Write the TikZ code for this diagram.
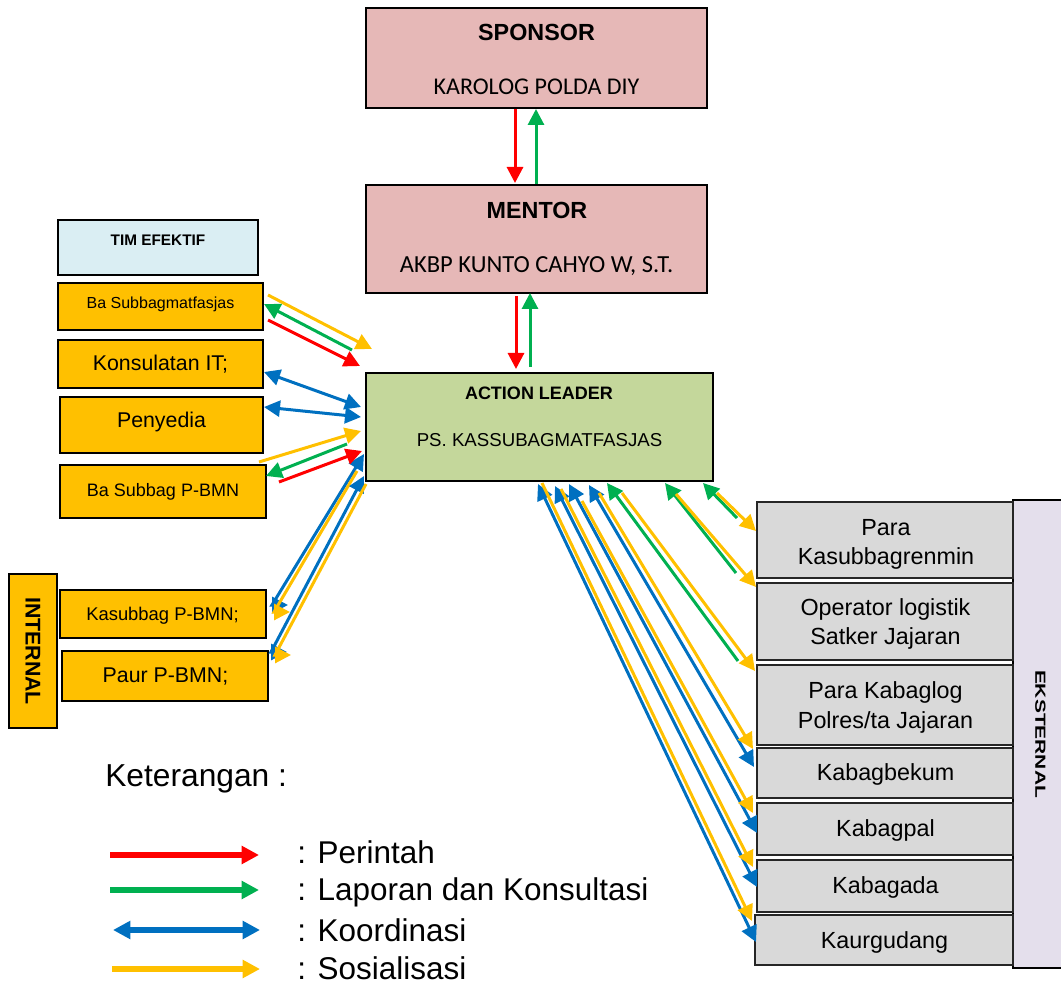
\documentclass[tikz,border=0pt]{standalone}
\usepackage{fontspec}
\setmainfont{Liberation Sans}
\newfontfamily\calfont{Carlito}
\usetikzlibrary{arrows.meta,calc,fit}
\definecolor{pinkc}{HTML}{E6B8B7}
\definecolor{greenbox}{HTML}{C4D79B}
\definecolor{lightblue}{HTML}{DAEEF3}
\definecolor{orangec}{HTML}{FFC000}
\definecolor{grayc}{HTML}{D9D9D9}
\definecolor{lavc}{HTML}{E4DFEC}
\definecolor{ared}{HTML}{FF0000}
\definecolor{agreen}{HTML}{00B050}
\definecolor{ablue}{HTML}{0070C0}
\definecolor{ayellow}{HTML}{FFC000}
\newcommand\fsz[1]{\fontsize{#1pt}{#1pt}\selectfont}
\tikzset{
  bx/.style={draw=black, line width=1.5pt, inner sep=0pt},
  pinkbox/.style={bx, fill=pinkc},
  greenbx/.style={bx, fill=greenbox},
  bluebx/.style={bx, fill=lightblue},
  orangebx/.style={bx, fill=orangec},
  graybx/.style={bx, draw=black!85, fill=grayc},
  lavbx/.style={bx, fill=lavc},
  txt/.style={inner sep=0pt, anchor=base},
  tip/.tip={Triangle[length=12pt,width=12pt]},
  bigtip/.tip={Triangle[length=13pt,width=13pt]},
  sarr/.style={line width=2.25pt, -tip},
  darr/.style={line width=2.25pt, tip-tip},
  rarr/.style={sarr, draw=ared},
  garr/.style={sarr, draw=agreen},
  yarr/.style={sarr, draw=ayellow},
  barr/.style={darr, draw=ablue},
  leg/.style={line width=4.5pt, -bigtip},
}
\begin{document}
\begin{tikzpicture}[x=0.75pt,y=-0.75pt]
\useasboundingbox (0,0) rectangle (1061,984);

% ---- top boxes
\node[pinkbox, fit={(366,8)(707,108)}] (sp) {};
\node[txt, font=\bfseries\fsz{17.5}] (spT) at (536.5,40.5) {SPONSOR};
\node[txt, font=\calfont\fsz{18}] (spS) at (536.5,95) {KAROLOG POLDA DIY};

\node[pinkbox, fit={(366,185)(707,293)}] (me) {};
\node[txt, font=\bfseries\fsz{17.5}] (meT) at (537,218.5) {MENTOR};
\node[txt, font=\calfont\fsz{18.4}] (meS) at (536.5,273) {AKBP KUNTO CAHYO W, S.T.};

\node[greenbx, fit={(366,373)(713,481)}] (al) {};
\node[txt, font=\bfseries\fsz{13.5}] (alT) at (539,400) {ACTION LEADER};
\node[txt, font=\fsz{14}] (alS) at (539.5,446.5) {PS. KASSUBAGMATFASJAS};

% ---- left boxes
\node[bluebx, fit={(58,220)(258,275)}] (tim) {};
\node[txt, font=\bfseries\fsz{11.5}] (timT) at (158,245.5) {TIM EFEKTIF};
\node[orangebx, fit={(58,283)(263,330)}] (b1) {};
\node[txt, font=\fsz{12}] (b1T) at (160.5,309) {Ba Subbagmatfasjas};
\node[orangebx, fit={(58,340)(263,388)}] (b2) {};
\node[txt, font=\fsz{16}] (b2T) at (160.5,370.5) {Konsulatan IT;};
\node[orangebx, fit={(60,397)(263,453)}] (b3) {};
\node[txt, font=\fsz{16}] (b3T) at (161.5,427.5) {Penyedia};
\node[orangebx, fit={(60,465)(266,518)}] (b4) {};
\node[txt, font=\fsz{13.5}] (b4T) at (163,496.5) {Ba Subbag P-BMN};

\node[orangebx, fit={(9,574)(57,728)}] (intl) {};
\node[inner sep=0pt, rotate=-90, font=\bfseries\fsz{16}] (intlT) at (33,651) {INTERNAL};
\node[orangebx, fit={(60,590)(266,638)}] (b5) {};
\node[txt, font=\fsz{13.8}] (b5T) at (162.5,620.5) {Kasubbag P-BMN;};
\node[orangebx, fit={(62,651)(268,701)}] (b6) {};
\node[txt, font=\fsz{16}] (b6T) at (165.5,682.5) {Paur P-BMN;};

% ---- right boxes
\node[lavbx, fit={(1013,500)(1075,968)}] (ext) {};
\node[inner sep=0pt, rotate=-90, font=\bfseries\fsz{15.7}] (extT) at (1040.5,734) {\scalebox{1}[0.7]{EKSTERNAL}};
\node[graybx, fit={(757,502)(1013,578)}] (r1) {};
\node[txt, font=\fsz{17.5}] (r1a) at (886,535.5) {Para};
\node[txt, font=\fsz{17.5}] (r1b) at (886,564.5) {Kasubbagrenmin};
\node[graybx, fit={(757,583)(1013,660)}] (r2) {};
\node[txt, font=\fsz{17.5}] (r2a) at (885.5,615.5) {Operator logistik};
\node[txt, font=\fsz{17.5}] (r2b) at (885.5,644.5) {Satker Jajaran};
\node[graybx, fit={(757,665)(1013,745)}] (r3) {};
\node[txt, font=\fsz{17.5}] (r3a) at (885.5,698.5) {Para Kabaglog};
\node[txt, font=\fsz{17.5}] (r3b) at (885.5,728.5) {Polres/ta Jajaran};
\node[graybx, fit={(757,748)(1013,798)}] (r4) {};
\node[txt, font=\fsz{17.5}] (r4T) at (885.5,780.5) {Kabagbekum};
\node[graybx, fit={(757,803)(1013,855)}] (r5) {};
\node[txt, font=\fsz{17.5}] (r5T) at (885.5,836.5) {Kabagpal};
\node[graybx, fit={(757,860)(1013,912)}] (r6) {};
\node[txt, font=\fsz{17.5}] (r6T) at (885.5,893.5) {Kabagada};
\node[graybx, fit={(755,915)(1013,965)}] (r7) {};
\node[txt, font=\fsz{17.5}] (r7T) at (884.5,948.5) {Kaurgudang};

% ---- top arrows
\draw[rarr] ($(sp.south west)+(150,0)$) -- ($(me.north west)+(150,-1)$);
\draw[garr] ($(me.north west)+(171,0)$) -- ($(sp.south west)+(171,0)$);
\draw[rarr] ($(me.south west)+(151,2)$) -- ($(al.north west)+(151,-3)$);
\draw[garr] ($(al.north west)+(165,-5)$) -- ($(me.south west)+(165,-1)$);

% ---- left arrows
\draw[yarr] ($(b1.north east)+(4,13)$) -- ($(al.north west)+(7,-23)$);
\draw[garr] ($(al.north west)+(-13,-22)$) -- ($(b1.north east)+(0,22)$);
\draw[rarr] ($(b1.north east)+(4,38)$) -- ($(al.north west)+(-5,-6)$);
\draw[barr] ($(b2.north east)+(0,33)$) -- ($(al.north west)+(-4,35)$);
\draw[barr] ($(b3.north east)+(0,11)$) -- ($(al.north west)+(-4,45)$);
\draw[yarr] ($(b4.north east)+(-8,-2)$) -- ($(al.north west)+(-4,59)$);
\draw[garr] ($(al.north west)+(-18,72)$) -- ($(b4.north east)+(-1,12)$);
\draw[barr] ($(al.north west)+(-1,82)$) -- ($(b5.north east)+(5,16)$) -- ++(16,0);
\draw[rarr] ($(b4.north east)+(12,18)$) -- ($(al.north west)+(-3,79)$);
\draw[yarr] ($(al.north west)+(-8,99)$) -- ($(b5.north east)+(7,23)$) -- ++(16,0);
\draw[barr] ($(al.north west)+(-1,104)$) -- ($(b6.north east)+(2,2)$) -- ++(16,0);
\draw[yarr] ($(al.north west)+(1,112)$) -- ($(b6.north east)+(6,5)$) -- ++(16,0);

% ---- right arrows
\draw[garr] ($(r1.north west)+(-19,17)$) -- ($(al.south west)+(338,1)$);
\draw[yarr] ($(al.south west)+(352,11)$) -- ($(r1.north west)+(0,30)$);
\draw[garr] ($(r2.north west)+(-20,-9)$) -- ($(al.south west)+(300,1)$);
\draw[yarr] ($(al.south west)+(311,12)$) -- ($(r2.north west)+(0,5)$);
\draw[garr] ($(r3.north west)+(-18,-3)$) -- ($(al.south west)+(242,1)$);
\draw[yarr] ($(al.south west)+(257,11)$) -- ($(r3.north west)+(-1,7)$);
\draw[barr] ($(al.south west)+(224,3)$) -- ($(r4.north west)+(-2,20)$);
\draw[yarr] ($(al.south west)+(234,11)$) -- ($(r4.north west)+(-3,2)$);
\draw[barr] ($(al.south west)+(204,2)$) -- ($(r5.north west)+(1,31)$);
\draw[yarr] ($(al.south west)+(217,19)$) -- ($(r5.north west)+(-3,11)$);
\draw[barr] ($(al.south west)+(190,4)$) -- ($(r6.north west)+(1,28)$);
\draw[yarr] ($(al.south west)+(196,7)$) -- ($(r6.north west)+(-3,8)$);
\draw[barr] ($(al.south west)+(173,2)$) -- ($(r7.north west)+(2,28)$);
\draw[yarr] ($(al.south west)+(177,1)$) -- ($(r7.north west)+(-2,7)$);

% ---- legend
\node[inner sep=0pt, anchor=base west, font=\fsz{23.8}] (ket) at (105,786) {Keterangan :};
\coordinate (l1a) at (110,855); \coordinate (l1b) at (259,855);
\coordinate (l2a) at (110,890); \coordinate (l2b) at (259,890);
\coordinate (l3a) at (113,930); \coordinate (l3b) at (260,930);
\coordinate (l4a) at (112,969); \coordinate (l4b) at (260,969);
\draw[leg, draw=ared] (l1a) -- (l1b);
\draw[leg, draw=agreen] (l2a) -- (l2b);
\draw[leg, draw=ablue, bigtip-bigtip] (l3a) -- (l3b);
\draw[leg, draw=ayellow] (l4a) -- (l4b);
\node[inner sep=0pt, anchor=base west, font=\fsz{23.6}] (k1) at (297,863) {: Perintah};
\node[inner sep=0pt, anchor=base west, font=\fsz{23.6}] (k2) at (297,900) {: Laporan dan Konsultasi};
\node[inner sep=0pt, anchor=base west, font=\fsz{23.6}] (k3) at (297,941) {: Koordinasi};
\node[inner sep=0pt, anchor=base west, font=\fsz{23.6}] (k4) at (297,979) {: Sosialisasi};
\end{tikzpicture}
\end{document}
